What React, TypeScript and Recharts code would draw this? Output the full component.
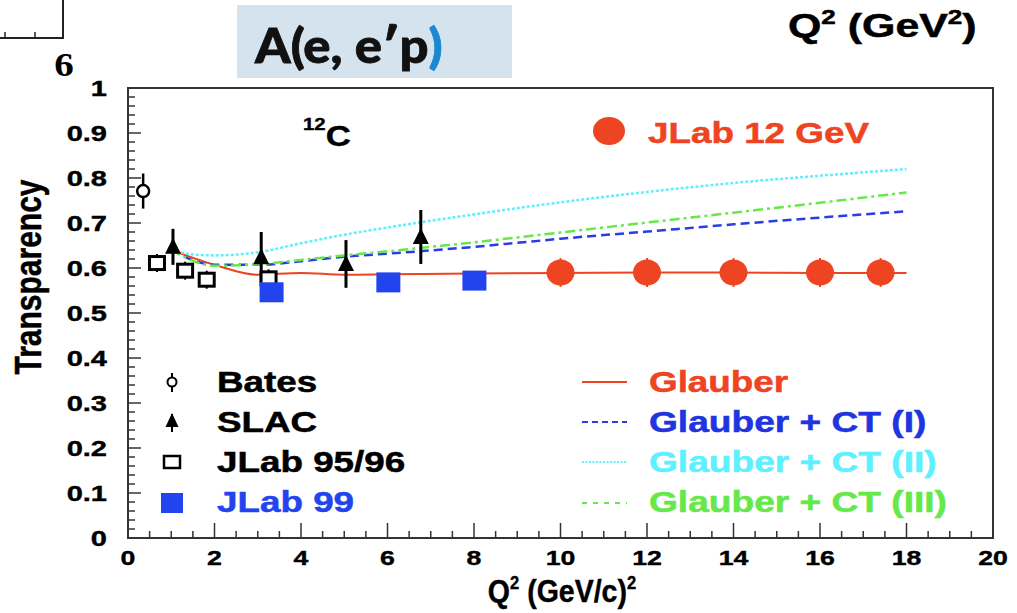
import React from 'react';
import { ComposedChart, Line, Scatter, XAxis, YAxis, ErrorBar } from 'recharts';

// ---------- data ----------
const batesX = [0.35];
const batesY = [0.771];
const batesErr = [0.039];

const slacX = [1.04, 3.08, 5.04, 6.77];
const slacY = [0.647, 0.624, 0.609, 0.669];
const slacErr = [0.04, 0.056, 0.053, 0.06];

const jlab9596X = [0.67, 1.32, 1.82, 3.25];
const jlab9596Y = [0.611, 0.594, 0.574, 0.577];
const jlab9596Err = [0.02, 0.02, 0.02, 0.02];

const jlab99X = [3.32, 6.02, 8.01];
const jlab99Y = [0.546, 0.568, 0.572];

const jlab12X = [10, 12, 14, 16, 17.4];
const jlab12Y = [0.59, 0.59, 0.59, 0.59, 0.59];
const jlab12Err = [0.032, 0.032, 0.032, 0.032, 0.032];

const glauberX = [1.0, 2.0, 3.0, 4.0, 5.0, 6.0, 8.0, 10, 12, 14, 16, 18];
const glauberY = [0.64, 0.607, 0.585, 0.589, 0.585, 0.586, 0.588, 0.589, 0.59, 0.59, 0.589, 0.589];

const ct1X = [1.0, 2.0, 3.0, 4.0, 5.0, 6.0, 7.0, 8.0, 9.0, 10, 12, 14, 16, 18];
const ct1Y = [0.64, 0.607, 0.607, 0.615, 0.625, 0.632, 0.639, 0.647, 0.656, 0.665, 0.681, 0.697, 0.712, 0.726];

const ct2X = [1.0, 1.5, 2.0, 3.0, 4.0, 5.0, 6.0, 7.0, 8.0, 9.0, 10, 12, 14, 16, 18];
const ct2Y = [0.64, 0.63, 0.628, 0.635, 0.655, 0.674, 0.69, 0.705, 0.719, 0.733, 0.746, 0.769, 0.789, 0.805, 0.82];

const ct3X = [1.0, 2.0, 3.0, 4.0, 5.0, 6.0, 7.0, 8.0, 9.0, 10, 12, 14, 16, 18];
const ct3Y = [0.64, 0.605, 0.608, 0.618, 0.628, 0.637, 0.647, 0.657, 0.668, 0.679, 0.701, 0.723, 0.745, 0.768];

const xMajorTicks = [0, 2, 4, 6, 8, 10, 12, 14, 16, 18, 20];
const yMajorTicks = [0, 0.1, 0.2, 0.3, 0.4, 0.5, 0.6, 0.7, 0.8, 0.9, 1];
const yTickLabels = ['0', '0.1', '0.2', '0.3', '0.4', '0.5', '0.6', '0.7', '0.8', '0.9', '1'];

const legendLeft = ['Bates', 'SLAC', 'JLab 95/96', 'JLab 99'];
const legendRight = ['Glauber', 'Glauber + CT (I)', 'Glauber + CT (II)', 'Glauber + CT (III)'];

// ---------- helpers ----------
const zip = (xs: number[], ys: number[], es?: number[]) =>
  xs.map((x, i) => ({ x, y: ys[i], e: es ? es[i] : 0 }));

const xTicks: number[] = [];
for (let i = 0; i <= 40; i++) xTicks.push(i * 0.5);
const yTicks: number[] = [];
for (let i = 0; i <= 50; i++) yTicks.push(Math.round(i * 2) / 100);

const SANS = '"Liberation Sans", Arial, Helvetica, sans-serif';
const AXC = '#333';

const RED = '#ee4422';
const BLUE = '#2a3ce6';
const CYAN = '#5ef0ff';
const GREEN = '#66e84a';
const SQBLUE = '#2244ee';

const XTick = (props: any) => {
  const { x, y, payload } = props;
  const v = payload.value as number;
  const major = xMajorTicks.some((m) => Math.abs(m - v) < 1e-6);
  return (
    <g>
      <line x1={x} x2={x} y1={y} y2={y - (major ? 15 : 7)} stroke={AXC} strokeWidth={1.5} />
      {major && (
        <text
          transform={`translate(${x},${y + 27}) scale(1.27,1)`}
          textAnchor="middle"
          fontSize={21}
          fontWeight="bold"
          fontFamily={SANS}
          fill="#000"
          stroke="#000"
          strokeWidth={0.4}
        >
          {String(v)}
        </text>
      )}
    </g>
  );
};

const YTick = (props: any) => {
  const { x, y, payload } = props;
  const v = payload.value as number;
  const idx = yMajorTicks.findIndex((m) => Math.abs(m - v) < 1e-6);
  const major = idx >= 0;
  return (
    <g>
      <line x1={x} x2={x + (major ? 13 : 7)} y1={y} y2={y} stroke={AXC} strokeWidth={1.5} />
      {major && (
        <text
          transform={`translate(${x - 21},${y + 8}) scale(1.32,1)`}
          textAnchor="end"
          fontSize={22}
          fontWeight="bold"
          fontFamily={SANS}
          fill="#000"
          stroke="#000"
          strokeWidth={0.4}
        >
          {yTickLabels[idx]}
        </text>
      )}
    </g>
  );
};

const CircleShape = (p: any) => (
  <circle cx={p.cx} cy={p.cy} r={6} fill="#fff" stroke="#000" strokeWidth={2.5} />
);
const TriShape = (p: any) => (
  <polygon
    points={`${p.cx - 8},${p.cy + 7} ${p.cx + 8},${p.cy + 7} ${p.cx},${p.cy - 9}`}
    fill="#000"
  />
);
const OpenSqShape = (p: any) => (
  <rect x={p.cx - 7.5} y={p.cy - 6.5} width={15} height={13} fill="#fff" stroke="#000" strokeWidth={3} />
);
const BlueSqShape = (p: any) => (
  <rect x={p.cx - 12} y={p.cy - 10} width={24} height={20} fill={SQBLUE} />
);
const EllShape = (p: any) => <ellipse cx={p.cx} cy={p.cy} rx={14} ry={13} fill={RED} />;

const ST = ({ x, y, sx = 1.27, size = 29, fill = '#000', anchor = 'start', family = SANS, weight = 'bold', children }: any) => (
  <text
    transform={`translate(${x},${y}) scale(${sx},1)`}
    fontSize={size}
    fontWeight={weight}
    fontFamily={family}
    fill={fill}
    stroke={fill}
    strokeWidth={0.5}
    textAnchor={anchor}
  >
    {children}
  </text>
);

const Overlay = () => (
  <svg
    width={1017}
    height={613}
    style={{ position: 'absolute', left: 0, top: 0, pointerEvents: 'none' }}
  >
    {/* fragment of neighbouring figure */}
    <line x1={0} y1={38} x2={63} y2={38} stroke="#222" strokeWidth={2} />
    <line x1={63} y1={0} x2={63} y2={39} stroke="#222" strokeWidth={2} />
    <line x1={5} y1={38} x2={5} y2={32} stroke="#222" strokeWidth={1.5} />
    <line x1={35} y1={38} x2={35} y2={32} stroke="#222" strokeWidth={1.5} />
    <text
      transform="translate(64,76) scale(1.15,1)"
      fontSize={34}
      fontWeight="bold"
      fontFamily='"Liberation Serif", "DejaVu Serif", "Times New Roman", serif'
      textAnchor="middle"
      fill="#000"
    >
      6
    </text>

    {/* title box */}
    <rect x={237} y={5} width={275} height={73} fill="#d4e3ed" />
    <text
      transform="translate(255,63) scale(1.06,1)"
      fontSize={48}
      fontWeight={900}
      fontFamily='Lato, "Open Sans", sans-serif'
      fill="#111"
      stroke="#111"
      strokeWidth={0.8}
    >
      A(e, e′p<tspan fill="#1a88d2" stroke="#1a88d2">)</tspan>
    </text>

    {/* top right label */}
    <text transform="translate(788,37) scale(1.3,1)" fontSize={33} fontWeight="bold" fontFamily={SANS} fill="#000" stroke="#000" strokeWidth={0.5}>
      Q<tspan dy={-13} fontSize={20}>2</tspan>
      <tspan dy={13}> (GeV</tspan>
      <tspan dy={-13} fontSize={20}>2</tspan>
      <tspan dy={13}>)</tspan>
    </text>

    {/* frame top/right */}
    <rect x={128} y={88} width={865} height={450} fill="none" stroke={AXC} strokeWidth={2} />

    {/* 12C label */}
    <text transform="translate(303,146) scale(1.2,1)" fontSize={29} fontWeight="bold" fontFamily={SANS} fill="#000" stroke="#000" strokeWidth={0.4}>
      <tspan dy={-16} fontSize={17}>12</tspan>
      <tspan dy={16}>C</tspan>
    </text>

    {/* JLab 12 GeV legend */}
    <ellipse cx={609} cy={131} rx={16} ry={14} fill={RED} />
    <ST x={648} y={143} fill={RED}>JLab 12 GeV</ST>

    {/* left legend */}
    <line x1={172} y1={373} x2={172} y2={392} stroke="#000" strokeWidth={2} />
    <circle cx={172} cy={382} r={4.5} fill="#fff" stroke="#000" strokeWidth={2} />
    <ST x={217} y={392}>{legendLeft[0]}</ST>

    <line x1={172} y1={414} x2={172} y2={432} stroke="#000" strokeWidth={2} />
    <polygon points="165.5,427 178.5,427 172,413" fill="#000" />
    <ST x={217} y={432}>{legendLeft[1]}</ST>

    <rect x={164} y={456} width={16} height={12} fill="#fff" stroke="#000" strokeWidth={2.5} />
    <ST x={217} y={472}>{legendLeft[2]}</ST>

    <rect x={161} y={493} width={22} height={20} fill={SQBLUE} />
    <ST x={217} y={512} fill={SQBLUE}>{legendLeft[3]}</ST>

    {/* right legend */}
    <line x1={582} y1={382} x2={627} y2={382} stroke={RED} strokeWidth={2} />
    <ST x={649} y={392} fill={RED}>{legendRight[0]}</ST>
    <line x1={582} y1={422} x2={627} y2={422} stroke={BLUE} strokeWidth={1.8} strokeDasharray="6 4" />
    <ST x={649} y={432} fill="#2035e0" sx={1.28}>{legendRight[1]}</ST>
    <line x1={582} y1={462} x2={627} y2={462} stroke={CYAN} strokeWidth={1.8} strokeDasharray="2 1.5" />
    <ST x={649} y={472} fill={CYAN} sx={1.28}>{legendRight[2]}</ST>
    <line x1={582} y1={503} x2={627} y2={503} stroke={GREEN} strokeWidth={1.8} strokeDasharray="5 6" />
    <ST x={649} y={512} fill={GREEN} sx={1.28}>{legendRight[3]}</ST>

    {/* axis titles */}
    <text transform="translate(562,602) scale(0.92,1)" textAnchor="middle" fontSize={31} fontWeight="bold" fontFamily={SANS} fill="#000" stroke="#000" strokeWidth={0.4}>
      Q<tspan dy={-13} fontSize={18}>2</tspan>
      <tspan dy={13}> (GeV/c)</tspan>
      <tspan dy={-13} fontSize={18}>2</tspan>
    </text>
    <text transform="translate(41,277) rotate(-90) scale(1,1.25)" textAnchor="middle" fontSize={30} fontWeight="bold" fontFamily={SANS} fill="#000" stroke="#000" strokeWidth={0.4}>
      Transparency
    </text>
  </svg>
);

export default function App() {
  return (
    <div style={{ position: 'absolute', left: 0, top: 0, width: 1017, height: 613, background: '#fff' }}>
      <ComposedChart width={1017} height={613} margin={{ top: 88, right: 24, bottom: 35, left: 68 }}>
        <XAxis
          type="number"
          dataKey="x"
          domain={[0, 20]}
          ticks={xTicks}
          interval={0}
          height={40}
          tickSize={0}
          tickMargin={0}
          tick={<XTick />}
          axisLine={{ stroke: AXC, strokeWidth: 2 }}
          allowDataOverflow
        />
        <YAxis
          type="number"
          dataKey="y"
          domain={[0, 1]}
          ticks={yTicks}
          interval={0}
          width={60}
          tickSize={0}
          tickMargin={0}
          tick={<YTick />}
          axisLine={{ stroke: AXC, strokeWidth: 2 }}
          allowDataOverflow
        />
        <Line data={zip(glauberX, glauberY)} dataKey="y" type="monotone" dot={false} stroke={RED} strokeWidth={2} isAnimationActive={false} />
        <Line data={zip(ct1X, ct1Y)} dataKey="y" type="monotone" dot={false} stroke={BLUE} strokeWidth={2.5} strokeDasharray="9 5" isAnimationActive={false} />
        <Line data={zip(ct2X, ct2Y)} dataKey="y" type="monotone" dot={false} stroke={CYAN} strokeWidth={2.5} strokeDasharray="3 2" isAnimationActive={false} />
        <Line data={zip(ct3X, ct3Y)} dataKey="y" type="monotone" dot={false} stroke={GREEN} strokeWidth={2.5} strokeDasharray="10 4 3 4" isAnimationActive={false} />
        <Scatter data={zip(batesX, batesY, batesErr)} dataKey="y" shape={CircleShape} isAnimationActive={false}>
          <ErrorBar dataKey="e" direction="y" width={0} stroke="#000" strokeWidth={2.5} />
        </Scatter>
        <Scatter data={zip(slacX, slacY, slacErr)} dataKey="y" shape={TriShape} isAnimationActive={false}>
          <ErrorBar dataKey="e" direction="y" width={0} stroke="#000" strokeWidth={3} />
        </Scatter>
        <Scatter data={zip(jlab9596X, jlab9596Y, jlab9596Err)} dataKey="y" shape={OpenSqShape} isAnimationActive={false}>
          <ErrorBar dataKey="e" direction="y" width={0} stroke="#000" strokeWidth={2} />
        </Scatter>
        <Scatter data={zip(jlab99X, jlab99Y)} dataKey="y" shape={BlueSqShape} isAnimationActive={false} />
        <Scatter data={zip(jlab12X, jlab12Y, jlab12Err)} dataKey="y" shape={EllShape} isAnimationActive={false}>
          <ErrorBar dataKey="e" direction="y" width={0} stroke={RED} strokeWidth={2} />
        </Scatter>
      </ComposedChart>
      <Overlay />
    </div>
  );
}
